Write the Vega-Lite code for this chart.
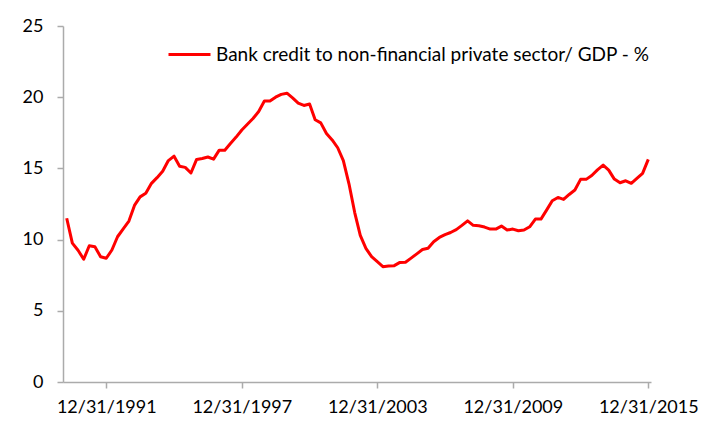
{
  "$schema": "https://vega.github.io/schema/vega-lite/v6.json",
  "autosize": "none",
  "width": 588,
  "height": 356,
  "padding": {"left": 63, "top": 26, "right": 64, "bottom": 47},
  "background": "white",
  "data": {
    "values": [
      {"date": "1990-03-31", "v": 11.5},
      {"date": "1990-06-30", "v": 9.75},
      {"date": "1990-09-30", "v": 9.25},
      {"date": "1990-12-31", "v": 8.62},
      {"date": "1991-03-31", "v": 9.57},
      {"date": "1991-06-30", "v": 9.5},
      {"date": "1991-09-30", "v": 8.8},
      {"date": "1991-12-31", "v": 8.69},
      {"date": "1992-03-31", "v": 9.27},
      {"date": "1992-06-30", "v": 10.2},
      {"date": "1992-09-30", "v": 10.75},
      {"date": "1992-12-31", "v": 11.3},
      {"date": "1993-03-31", "v": 12.4},
      {"date": "1993-06-30", "v": 13.0},
      {"date": "1993-09-30", "v": 13.25},
      {"date": "1993-12-31", "v": 13.95},
      {"date": "1994-03-31", "v": 14.35},
      {"date": "1994-06-30", "v": 14.8},
      {"date": "1994-09-30", "v": 15.55},
      {"date": "1994-12-31", "v": 15.86},
      {"date": "1995-03-31", "v": 15.15},
      {"date": "1995-06-30", "v": 15.07},
      {"date": "1995-09-30", "v": 14.68},
      {"date": "1995-12-31", "v": 15.63},
      {"date": "1996-03-31", "v": 15.7},
      {"date": "1996-06-30", "v": 15.8},
      {"date": "1996-09-30", "v": 15.65},
      {"date": "1996-12-31", "v": 16.28},
      {"date": "1997-03-31", "v": 16.28},
      {"date": "1997-06-30", "v": 16.75},
      {"date": "1997-09-30", "v": 17.2},
      {"date": "1997-12-31", "v": 17.7},
      {"date": "1998-03-31", "v": 18.1},
      {"date": "1998-06-30", "v": 18.5},
      {"date": "1998-09-30", "v": 19.0},
      {"date": "1998-12-31", "v": 19.73},
      {"date": "1999-03-31", "v": 19.73},
      {"date": "1999-06-30", "v": 20.0},
      {"date": "1999-09-30", "v": 20.2},
      {"date": "1999-12-31", "v": 20.28},
      {"date": "2000-03-31", "v": 19.95},
      {"date": "2000-06-30", "v": 19.58},
      {"date": "2000-09-30", "v": 19.42},
      {"date": "2000-12-31", "v": 19.52},
      {"date": "2001-03-31", "v": 18.42},
      {"date": "2001-06-30", "v": 18.2},
      {"date": "2001-09-30", "v": 17.45},
      {"date": "2001-12-31", "v": 17.0},
      {"date": "2002-03-31", "v": 16.45},
      {"date": "2002-06-30", "v": 15.55},
      {"date": "2002-09-30", "v": 13.9},
      {"date": "2002-12-31", "v": 11.9},
      {"date": "2003-03-31", "v": 10.3},
      {"date": "2003-06-30", "v": 9.39},
      {"date": "2003-09-30", "v": 8.8},
      {"date": "2003-12-31", "v": 8.45},
      {"date": "2004-03-31", "v": 8.1},
      {"date": "2004-06-30", "v": 8.15},
      {"date": "2004-09-30", "v": 8.17},
      {"date": "2004-12-31", "v": 8.4},
      {"date": "2005-03-31", "v": 8.41},
      {"date": "2005-06-30", "v": 8.7},
      {"date": "2005-09-30", "v": 9.0},
      {"date": "2005-12-31", "v": 9.3},
      {"date": "2006-03-31", "v": 9.39},
      {"date": "2006-06-30", "v": 9.85},
      {"date": "2006-09-30", "v": 10.15},
      {"date": "2006-12-31", "v": 10.35},
      {"date": "2007-03-31", "v": 10.5},
      {"date": "2007-06-30", "v": 10.7},
      {"date": "2007-09-30", "v": 11.0},
      {"date": "2007-12-31", "v": 11.32},
      {"date": "2008-03-31", "v": 11.0},
      {"date": "2008-06-30", "v": 10.97},
      {"date": "2008-09-30", "v": 10.88},
      {"date": "2008-12-31", "v": 10.74},
      {"date": "2009-03-31", "v": 10.74},
      {"date": "2009-06-30", "v": 10.95},
      {"date": "2009-09-30", "v": 10.67},
      {"date": "2009-12-31", "v": 10.74},
      {"date": "2010-03-31", "v": 10.62},
      {"date": "2010-06-30", "v": 10.67},
      {"date": "2010-09-30", "v": 10.9},
      {"date": "2010-12-31", "v": 11.44},
      {"date": "2011-03-31", "v": 11.44},
      {"date": "2011-06-30", "v": 12.07},
      {"date": "2011-09-30", "v": 12.73},
      {"date": "2011-12-31", "v": 12.96},
      {"date": "2012-03-31", "v": 12.82},
      {"date": "2012-06-30", "v": 13.17},
      {"date": "2012-09-30", "v": 13.48},
      {"date": "2012-12-31", "v": 14.23},
      {"date": "2013-03-31", "v": 14.23},
      {"date": "2013-06-30", "v": 14.5},
      {"date": "2013-09-30", "v": 14.9},
      {"date": "2013-12-31", "v": 15.23},
      {"date": "2014-03-31", "v": 14.88},
      {"date": "2014-06-30", "v": 14.25},
      {"date": "2014-09-30", "v": 13.99},
      {"date": "2014-12-31", "v": 14.13},
      {"date": "2015-03-31", "v": 13.95},
      {"date": "2015-06-30", "v": 14.3},
      {"date": "2015-09-30", "v": 14.65},
      {"date": "2015-12-31", "v": 15.63}
    ]
  },
  "mark": {"type": "line", "strokeWidth": 3, "strokeJoin": "round"},
  "encoding": {
    "x": {
      "field": "date",
      "type": "temporal",
      "title": null,
      "scale": {
        "type": "utc",
        "domain": [
          {"year": 1990, "month": 1, "date": 30, "utc": true},
          {"year": 2016, "month": 2, "date": 13, "utc": true}
        ]
      },
      "axis": {
        "values": [
          {"year": 1991, "month": 12, "date": 31, "utc": true},
          {"year": 1997, "month": 12, "date": 31, "utc": true},
          {"year": 2003, "month": 12, "date": 31, "utc": true},
          {"year": 2009, "month": 12, "date": 31, "utc": true},
          {"year": 2015, "month": 12, "date": 31, "utc": true}
        ],
        "labelExpr": "utcFormat(datum.value, '%m/%d/%Y')",
        "grid": false,
        "domainColor": "#ababab",
        "tickColor": "#ababab",
        "tickSize": 6,
        "labelPadding": 10,
        "labelFlush": false
      }
    },
    "y": {
      "field": "v",
      "type": "quantitative",
      "title": null,
      "scale": {"domain": [0, 25], "nice": false},
      "axis": {
        "values": [0, 5, 10, 15, 20, 25],
        "grid": false,
        "domainColor": "#ababab",
        "tickColor": "#ababab",
        "tickSize": 6,
        "labelPadding": 14
      }
    },
    "color": {
      "datum": "Bank credit to non-financial private sector/ GDP - %",
      "scale": {"range": ["#ff0000"]},
      "legend": {
        "title": null,
        "orient": "none",
        "legendX": 104,
        "legendY": 6,
        "symbolType": "stroke",
        "symbolSize": 1764,
        "symbolStrokeWidth": 3,
        "labelOffset": 4,
        "labelFontSize": 19,
        "labelFont": "Lato",
        "labelColor": "#000000",
        "labelLimit": 600
      }
    }
  },
  "config": {
    "view": {"stroke": null},
    "axis": {
      "labelFont": "Lato",
      "labelFontSize": 18,
      "labelColor": "#000000",
      "domainWidth": 1.5,
      "tickWidth": 1.5
    }
  }
}
